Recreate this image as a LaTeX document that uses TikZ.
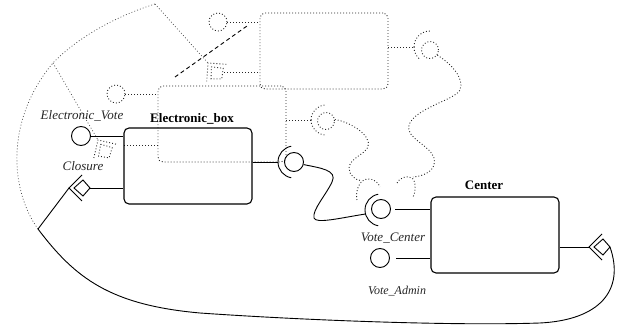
\documentclass[tikz,border=0pt]{standalone}
\usepackage{fontspec}
\setmainfont{Liberation Serif}
\begin{document}
\begin{tikzpicture}[x=1pt,y=-1pt,
  wire/.style={line width=0.9pt},
  box/.style={draw, line width=1.1pt, rounded corners=5pt, minimum width=128pt, minimum height=76pt, inner sep=0pt},
  ghostline/.style={color=black!85, line width=0.9pt, dash pattern=on 0.9pt off 2.1pt},
  ghostbox/.style={draw, ghostline, rounded corners=5pt, minimum width=128pt, minimum height=76pt, inner sep=0pt},
  port/.style={circle, draw, line width=0.9pt, minimum size=19pt, inner sep=0pt},
  ghostport/.style={circle, draw, ghostline, minimum size=18pt, inner sep=0pt},
  dashline/.style={line width=0.9pt, dash pattern=on 4pt off 3pt},
  lbl/.style={font=\fontsize{13}{15}\selectfont\itshape, text=black!85, inner sep=0pt},
  title/.style={font=\fontsize{13}{15}\selectfont\bfseries, inner sep=0pt},
  clsglyph/.pic={
    \draw (13,-13) -- (0,0) -- (13,13);
    \draw (5,0) -- (14,-8) -- (21,0) -- (14,8) -- cycle;
  }
]
\useasboundingbox (0,0) rectangle (625,334);

% ---------- earlier positions (dotted) ----------
\node[ghostbox] (gb1) at (222,124) {};
\node[ghostbox] (gb2) at (324,51) {};

\node[ghostport] (g1ev) at (116,94) {};
\draw[ghostline] (g1ev.east) -- (g1ev.east -| gb1.west);
\coordinate (g1cl) at (124,145);
\draw[ghostline] (g1cl) -- (g1cl -| gb1.west);

\node[ghostport] (g2ev) at (218,22) {};
\draw[ghostline] (g2ev.east) -- (g2ev.east -| gb2.west);
\coordinate (g2cl) at (224,72);
\draw[ghostline] (g2cl) -- (g2cl -| gb2.west);

% dotted closure links
\coordinate (bend) at (38,229);
\coordinate (gk1) at (53,63);
\coordinate (gk2) at (155,4);
\draw[ghostline, color=black!70, line width=0.7pt] (bend) .. controls (10,190) and (5,120) .. (gk1)
                        .. controls (80,35) and (120,15) .. (gk2);
\coordinate (g1A) at (98,140);
\coordinate (g2A) at (208,63);
\draw[ghostline, color=black!70, line width=0.7pt] (gk1) -- (g1A);
\draw[ghostline, color=black!70, line width=0.7pt] (gk2) -- (g2A);
\pic[ghostline, rotate=-58] at (g1A) {clsglyph};
\pic[ghostline, rotate=-49] at (g2A) {clsglyph};

% dotted sockets and their wires
\node[ghostport, minimum size=17pt] (g1ball) at (326,121) {};
\coordinate (g1sock) at (311,120);
\draw[ghostline] (g1sock -| gb1.east) -- (g1sock);
\draw[ghostline] (g1sock) arc[start angle=180, end angle=95, radius=15];
\draw[ghostline] (g1sock) arc[start angle=180, end angle=265, radius=15];
\coordinate (g1end) at (362,181);
\draw[ghostline] (g1ball.10) .. controls (350,122) and (372,135) .. (368,147)
                 .. controls (364,155) and (350,158) .. (349,168)
                 .. controls (349,175) and (355,180) .. (g1end);
\coordinate (g1arcA) at (357,200);
\coordinate (g1arcB) at (380,187);
\draw[ghostline] (g1arcA) .. controls (355,190) and (360,179) .. (368,179)
                 .. controls (374,179) and (378,182) .. (g1arcB);

\node[ghostport, minimum size=17pt] (g2ball) at (430,50) {};
\coordinate (g2sock) at (414,47);
\draw[ghostline] (g2sock -| gb2.east) -- (g2sock);
\draw[ghostline] (g2sock) arc[start angle=180, end angle=270, radius=16];
\draw[ghostline] (g2sock) arc[start angle=180, end angle=129, radius=16];
\coordinate (g2end) at (413,177);
\draw[ghostline] (g2ball.-35) .. controls (450,63) and (465,78) .. (460,90)
                 .. controls (455,100) and (415,108) .. (409,125)
                 .. controls (405,138) and (430,145) .. (434,158)
                 .. controls (437,170) and (425,176) .. (g2end);
\coordinate (g2arcA) at (397,183);
\coordinate (g2arcB) at (413,197);
\draw[ghostline] (g2arcA) .. controls (399,178) and (407,175) .. (412,178)
                 .. controls (416,181) and (416,192) .. (g2arcB);

% dashed stroke
\coordinate (dA) at (175,77);
\coordinate (dB) at (247,26);
\draw[dashline] (dA) -- (dB);

% ---------- components ----------
\node[box] (ebox) at (188,166) {};
\node[title] (ebl) at (192,119) {Electronic\_box};
\node[box] (cbox) at (495,235) {};
\node[title] (cbl) at (484,185) {Center};

% Electronic_Vote
\node[port] (ev) at (81,136) {};
\draw[wire] (ev.east) -- (ev.east -| ebox.west);
\node[lbl] (evl) at (82,116) {Electronic\_Vote};

% Closure
\coordinate (clsA) at (69,188);
\coordinate (clsR) at (90,188);
\pic[line width=0.9pt] at (clsA) {clsglyph};
\draw[wire] (clsR) -- (clsR -| ebox.west);
\node[lbl] (clsl) at (83,166) {Closure};

% Electronic_box socket
\node[port] (eball) at (294,162) {};
\coordinate (esock) at (278,162);
\draw[wire] (ebox.east |- esock) -- (esock);
\draw[wire] (esock) arc[start angle=180, end angle=100, radius=16];
\draw[wire] (esock) arc[start angle=180, end angle=260, radius=16];

% Vote_Center
\node[port] (vcball) at (381,209) {};
\coordinate (vcsock) at (365,210);
\draw[wire] (vcsock) arc[start angle=180, end angle=100, radius=16];
\draw[wire] (vcsock) arc[start angle=180, end angle=260, radius=16];
\coordinate (vcline) at (395,209);
\draw[wire] (vcline) -- (vcline -| cbox.west);
\node[lbl] (vcl) at (393,238) {Vote\_Center};

% wire between the two sockets
\coordinate (vcin) at (365.5,214);
\draw[wire] (eball.-15) .. controls (320,168) and (338,170) .. (332,182)
            .. controls (326,195) and (312,210) .. (314,218)
            .. controls (316,224) and (340,218) .. (vcin);

% Vote_Admin
\node[port] (va) at (380,258) {};
\coordinate (valine) at (396,258);
\draw[wire] (valine) -- (valine -| cbox.west);
\node[lbl, font=\fontsize{12}{14}\selectfont\itshape] (val) at (397,291) {Vote\_Admin};

% Center closure
\coordinate (cA) at (589,247);
\coordinate (cR) at (610,247);
\pic[line width=0.9pt] at (cA) {clsglyph};
\draw[wire] (cA -| cbox.east) -- (cA);

% closure link round the bottom
\draw[wire] (clsA) -- (bend)
   .. controls (75,278) and (110,305) .. (200,313)
   .. controls (300,320) and (450,326) .. (540,323)
   .. controls (600,320) and (625,290) .. (cR);
\end{tikzpicture}
\end{document}
